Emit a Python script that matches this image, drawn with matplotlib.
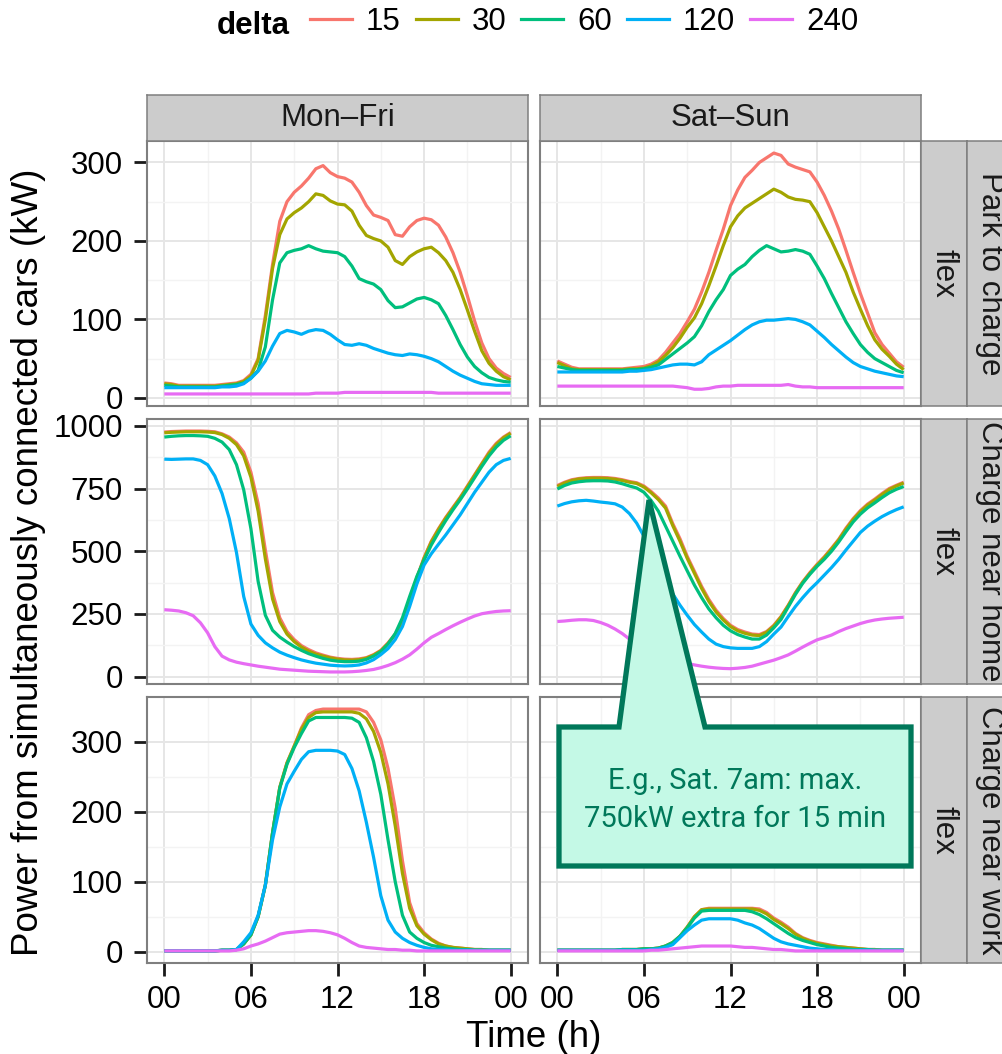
import matplotlib
matplotlib.use("Agg")
import matplotlib.pyplot as plt
from matplotlib.patches import Polygon
from matplotlib.lines import Line2D

plt.rcParams["font.family"] = ["Liberation Sans", "DejaVu Sans"]

# time grid (half hours) and categories
hours = [h / 2 for h in range(49)]
deltas = ["15", "30", "60", "120", "240"]
colours = ["#F8766D", "#A3A500", "#00BF7D", "#00B0F6", "#E76BF3"]
day_types = ["Mon\u2013Fri", "Sat\u2013Sun"]
scenarios = ["Park to charge", "Charge near home", "Charge near work"]
x_ticks = [0, 6, 12, 18, 24]
x_tick_labels = ["00", "06", "12", "18", "00"]
y_ticks = [[0, 100, 200, 300], [0, 250, 500, 750, 1000], [0, 100, 200, 300]]

# --- Park to charge, Mon-Fri ---
p_wd_15 = [19,18,16,16,16,16,16,16,17,18,19,22,30,50,105,170,225,250,262,270,280,292,296,287,282,280,275,262,245,233,230,226,208,206,218,226,229,227,220,205,185,160,130,98,70,50,38,31,26]
p_wd_30 = [18,17,15,15,15,15,15,15,16,17,18,21,28,48,100,165,208,228,236,242,250,260,258,251,247,246,238,220,207,203,200,192,175,170,180,186,190,192,185,175,160,138,112,85,60,44,34,27,23]
p_wd_60 = [16,15,14,14,14,14,14,14,15,16,17,19,25,35,65,125,172,185,188,190,194,190,187,186,185,180,168,152,148,145,138,124,115,116,121,126,128,125,120,105,87,68,52,40,32,26,23,21,20]
p_wd_120 = [13,13,13,13,13,13,13,13,14,14,15,18,25,34,47,66,82,86,84,81,85,87,86,81,74,68,67,69,67,63,60,57,55,54,56,55,53,50,46,40,34,29,25,21,18,17,16,16,16]
p_wd_240 = [5,5,5,5,5,5,5,5,5,5,5,5,5,5,5,5,5,5,5,5,5,6,6,6,6,7,7,7,7,7,7,7,7,7,7,7,7,7,6,6,6,6,6,6,6,6,6,6,6]

# --- Park to charge, Sat-Sun ---
p_we_15 = [47,43,39,37,37,37,37,37,37,37,38,39,40,43,48,58,70,82,97,113,135,160,188,215,245,265,281,290,300,306,312,309,298,294,291,288,275,258,238,215,188,160,133,108,83,68,57,46,39]
p_we_30 = [45,41,37,36,36,36,36,36,36,36,37,37,38,41,46,54,64,76,90,102,120,143,168,194,218,232,242,248,254,260,266,262,256,253,252,250,236,218,200,180,160,135,113,92,74,62,53,43,36]
p_we_60 = [40,38,36,35,35,35,35,35,35,35,36,36,37,39,42,49,56,63,70,78,92,110,125,138,156,164,170,180,188,194,190,186,187,189,187,183,168,152,133,115,97,82,68,58,50,45,40,35,32]
p_we_120 = [33,33,33,33,33,33,33,33,33,33,34,34,35,36,38,40,42,43,43,42,46,55,61,67,73,80,87,93,97,99,99,100,101,100,97,93,85,77,68,60,52,45,40,37,34,32,30,28,27]
p_we_240 = [15,15,15,15,15,15,15,15,15,15,15,15,15,15,15,15,15,14,13,11,11,12,14,15,15,16,16,16,16,16,16,16,17,15,14,14,13,13,13,13,13,13,13,13,13,13,13,13,13]

# --- Charge near home, Mon-Fri ---
h_wd_15 = [975,977,978,979,979,979,978,976,968,955,932,895,815,690,505,335,235,180,148,124,108,95,86,78,73,70,69,71,76,88,105,135,170,222,305,395,475,540,590,635,675,715,760,805,850,895,930,955,973]
h_wd_30 = [972,974,975,976,976,976,975,973,965,950,925,880,795,660,470,310,220,170,140,118,102,90,82,75,70,67,66,68,74,86,103,132,168,220,302,392,472,537,587,632,672,712,757,802,847,890,925,952,970]
h_wd_60 = [955,958,960,961,961,960,958,950,935,905,845,745,590,380,245,185,158,138,120,105,92,82,73,66,62,60,60,62,69,82,100,130,172,235,320,400,465,525,575,622,665,705,748,793,838,880,915,942,960]
h_wd_120 = [867,866,867,868,868,862,845,800,730,630,495,320,210,165,135,115,98,86,76,67,60,54,50,46,44,43,44,47,55,68,88,112,148,200,280,370,445,490,528,565,605,645,690,735,775,815,845,862,870]
h_wd_240 = [267,265,262,255,243,215,175,120,82,67,58,52,47,42,38,34,30,28,26,24,22,21,20,19,19,19,20,22,25,29,36,45,56,70,87,110,135,157,172,188,203,217,230,242,251,256,260,262,263]

# --- Charge near home, Sat-Sun ---
h_we_15 = [762,775,785,790,793,794,794,793,790,785,778,773,760,738,712,680,610,550,480,420,360,308,265,232,205,188,178,170,168,180,205,240,285,335,378,415,448,478,512,548,592,630,662,688,708,730,750,763,775]
h_we_30 = [758,772,782,788,790,791,791,790,787,782,775,770,756,733,706,672,602,540,472,412,352,300,258,226,200,183,173,166,164,177,202,238,283,333,376,412,445,475,509,545,588,626,658,684,704,726,746,760,772]
h_we_60 = [748,762,772,777,780,781,781,780,776,769,760,752,735,702,660,600,540,480,422,365,315,270,235,205,183,168,158,150,150,166,195,228,278,328,372,408,440,468,500,537,578,617,648,673,693,714,733,747,758]
h_we_120 = [680,690,697,701,703,700,696,693,689,676,650,612,560,505,445,385,330,285,245,208,178,150,130,120,115,113,113,113,120,140,170,198,240,280,315,347,375,405,435,468,505,540,575,600,620,638,653,666,677]
h_we_240 = [220,222,225,227,227,224,216,205,190,172,150,130,113,98,85,74,65,58,53,47,42,38,35,33,32,34,37,42,50,58,66,76,87,102,118,133,147,156,166,180,192,202,212,220,226,230,233,235,237]

# --- Charge near work, Mon-Fri ---
w_wd_15 = [1,1,1,1,1,1,1,1,2,2,3,11,24,50,95,170,235,270,294,320,339,345,347,347,347,347,347,347,343,328,303,262,205,130,70,40,27,18,12,8,6,5,4,3,3,2,2,2,2]
w_wd_30 = [1,1,1,1,1,1,1,1,2,2,3,11,24,50,95,170,235,270,294,318,335,342,343,343,343,343,343,341,333,315,285,240,180,112,62,37,25,17,11,8,6,5,4,3,3,2,2,2,2]
w_wd_60 = [1,1,1,1,1,1,1,1,2,2,3,11,24,50,95,170,234,268,292,312,330,335,335,335,335,335,334,328,306,272,225,160,100,52,28,19,13,9,7,5,4,3,3,2,2,2,2,2,2]
w_wd_120 = [1,1,1,1,1,1,1,1,2,2,3,14,27,52,95,160,207,240,258,275,286,288,288,288,287,282,262,230,185,135,80,45,28,19,13,9,6,4,3,3,2,2,2,2,2,2,2,2,2]
w_wd_240 = [1,1,1,1,1,1,1,1,1,1,2,4,8,11,15,20,25,27,28,29,30,30,29,27,24,19,13,8,6,5,4,3,3,2,2,1,1,1,1,1,1,1,1,1,1,1,1,1,1]

# --- Charge near work, Sat-Sun ---
w_we_15 = [2,2,2,2,2,2,2,2,2,3,3,3,4,4,5,8,13,22,35,50,60,62,62,62,62,62,62,62,61,56,48,42,35,26,20,16,13,11,9,7,6,5,4,3,3,2,2,2,2]
w_we_30 = [2,2,2,2,2,2,2,2,2,3,3,3,4,4,5,8,13,22,35,50,60,61,61,61,61,61,61,61,59,54,46,40,33,25,19,15,12,10,8,7,6,5,4,3,3,2,2,2,2]
w_we_60 = [2,2,2,2,2,2,2,2,2,3,3,3,4,4,5,8,13,22,34,48,58,59,59,59,59,59,59,57,53,47,40,33,26,20,16,13,10,8,6,5,4,3,3,3,2,2,2,2,2]
w_we_120 = [2,2,2,2,2,2,2,2,2,2,2,2,2,3,4,6,10,20,30,38,45,47,47,47,47,45,41,38,33,26,19,14,11,9,7,5,4,3,3,2,2,2,2,2,2,2,2,2,2]
w_we_240 = [1,1,1,1,1,1,1,1,1,1,1,1,1,2,2,3,4,5,6,7,8,8,8,8,8,7,6,6,5,4,3,3,2,1,1,1,1,1,1,1,1,1,1,1,1,1,1,1,1]

panels = [
    [[p_wd_15, p_wd_30, p_wd_60, p_wd_120, p_wd_240],
     [p_we_15, p_we_30, p_we_60, p_we_120, p_we_240]],
    [[h_wd_15, h_wd_30, h_wd_60, h_wd_120, h_wd_240],
     [h_we_15, h_we_30, h_we_60, h_we_120, h_we_240]],
    [[w_wd_15, w_wd_30, w_wd_60, w_wd_120, w_wd_240],
     [w_we_15, w_we_30, w_we_60, w_we_120, w_we_240]],
]

# layout, in pixels of the 1003x1054 output
W, H = 1003, 1054
col_x = [(147, 528), (540, 921)]
row_y = [(141, 406), (419, 684), (697, 963)]
strip_fill = "#CCCCCC"
border = "#7F7F7F"
txt_size = 22.5
title_size = 26.5
line_w = 2.3

fig = plt.figure(figsize=(W / 100, H / 100), dpi=100)


def px_axes(x0, y0, x1, y1):
    return fig.add_axes([x0 / W, 1 - y1 / H, (x1 - x0) / W, (y1 - y0) / H])


def strip(x0, y0, x1, y1, label, rot):
    s = px_axes(x0, y0, x1, y1)
    s.set_facecolor(strip_fill)
    s.set_xticks([])
    s.set_yticks([])
    for sp in s.spines.values():
        sp.set_color(border)
        sp.set_linewidth(1.1)
    s.text(0.5, 0.5, label, transform=s.transAxes, ha="center", va="center",
           rotation=rot, fontsize=txt_size, color="#1A1A1A")
    return s


for r in range(3):
    # shared y range per row, like facet_grid(scales="free_y")
    row_vals = [v for col in panels[r] for s in col for v in s]
    lo, hi = min(row_vals), max(row_vals)
    pad = 0.05 * (hi - lo)
    maj = y_ticks[r]
    step = maj[1] - maj[0]
    minor_y = [m + step / 2 for m in maj[:-1]]
    for c in range(2):
        ax = px_axes(col_x[c][0], row_y[r][0], col_x[c][1], row_y[r][1])
        for series, col in zip(panels[r][c], colours):
            ax.plot(hours, series, color=col, lw=line_w, solid_capstyle="butt")
        ax.set_xlim(-1.2, 25.2)
        ax.set_ylim(lo - pad, hi + pad)
        ax.set_xticks(x_ticks)
        ax.set_xticks([3, 9, 15, 21], minor=True)
        ax.set_yticks(maj)
        ax.set_yticks(minor_y, minor=True)
        ax.set_xticklabels(x_tick_labels)
        ax.set_yticklabels([str(v) for v in maj])
        ax.grid(which="major", color="#E6E6E6", lw=1.4)
        ax.grid(which="minor", color="#F3F3F3", lw=1.0)
        ax.set_axisbelow(True)
        for sp in ax.spines.values():
            sp.set_color(border)
            sp.set_linewidth(1.5)
        ax.tick_params(which="major", direction="out", length=9.5, width=2.0,
                       color="#1A1A1A", labelsize=txt_size, labelcolor="black")
        ax.tick_params(axis="y", which="major", pad=8)
        ax.tick_params(axis="x", which="major", pad=6)
        ax.tick_params(which="minor", length=0)
        if c == 1:
            ax.tick_params(axis="y", which="both", left=False, labelleft=False)
        if r < 2:
            ax.tick_params(axis="x", which="both", bottom=False, labelbottom=False)

        if r == 0:
            strip(col_x[c][0], 95, col_x[c][1], 141, day_types[c], 0)
    strip(921, row_y[r][0], 967, row_y[r][1], "flex", -90)
    strip(967, row_y[r][0], 1013, row_y[r][1], scenarios[r], -90)

# axis titles
fig.text(534 / W, 1 - 1047 / H, "Time (h)", ha="center", va="baseline",
         fontsize=title_size)
fig.text(29 / W, 1 - 562 / H, "Power from simultaneously connected cars (kW)",
         ha="center", va="center", rotation=90, fontsize=title_size)

# legend on top
handles = [Line2D([], [], color=col, lw=line_w) for col in colours]
fig.legend(handles, deltas, ncol=5, frameon=False, loc="center left",
           bbox_to_anchor=(310 / W, 1 - 22 / H), fontsize=txt_size,
           handlelength=1.34, handletextpad=0.45, columnspacing=0.48,
           borderpad=0, borderaxespad=0)
fig.text(290 / W, 1 - 33.5 / H, "delta", ha="right", va="baseline",
         fontsize=txt_size, fontweight="bold")

# callout
callout_px = [(559, 727), (619, 727), (649, 500), (705, 727), (911, 727),
              (911, 866), (559, 866)]
callout = Polygon([(x / W, 1 - y / H) for x, y in callout_px], closed=True,
                  transform=fig.transFigure, facecolor="#C4F9E6",
                  edgecolor="#00785A", lw=3.8, joinstyle="miter", zorder=10)
fig.add_artist(callout)
fig.text(735 / W, 1 - 800 / H, "E.g., Sat. 7am: max.\n750kW extra for 15 min",
         ha="center", va="center", color="#00785A", fontsize=21,
         linespacing=1.45, zorder=11, family=["Roboto", "DejaVu Sans"])

fig.savefig("out.png", dpi=100)
